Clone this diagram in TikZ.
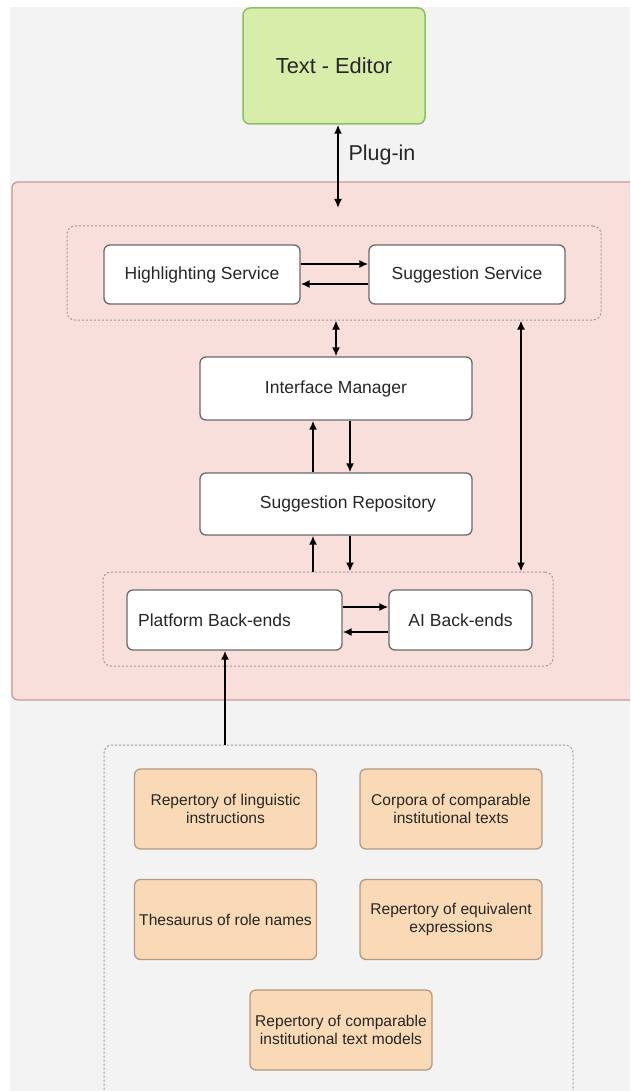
\documentclass[tikz,border=0pt]{standalone}
\usepackage{fontspec}
\setmainfont{Liberation Sans}
\usetikzlibrary{arrows.meta}
\definecolor{bggray}{HTML}{F3F3F3}
\definecolor{pinkfill}{HTML}{F8DFDB}
\definecolor{pinkline}{HTML}{C49C98}
\definecolor{greenfill}{HTML}{D9EDAA}
\definecolor{greenline}{HTML}{8DBF65}
\definecolor{orangefill}{HTML}{FAD9B6}
\definecolor{orangeline}{HTML}{B39A83}
\definecolor{boxline}{HTML}{6A6A6A}
\definecolor{dashgray}{HTML}{9A9A9A}
\definecolor{txt}{HTML}{262626}
\tikzset{
  svc/.style={draw=boxline, fill=white, line width=1.3pt, rounded corners=6pt,
    font=\fontsize{17.5}{20}\selectfont, text=txt, inner sep=0pt},
  src/.style={draw=orangeline, fill=orangefill, line width=1.3pt, rounded corners=6pt,
    font=\fontsize{15.6}{17.5}\selectfont, text=txt, align=center, inner sep=0pt,
    minimum width=182pt, minimum height=80pt},
  grp/.style={draw=dashgray, line width=1pt, dash pattern=on 2pt off 2pt, rounded corners=8pt,
    inner sep=0pt},
  arr/.style={-{Latex[length=9pt,width=8pt]}, line width=1.8pt, black},
  darr/.style={{Latex[length=9pt,width=8pt]}-{Latex[length=9pt,width=8pt]}, line width=1.8pt, black},
}
\begin{document}
\begin{tikzpicture}[x=1pt,y=-1pt]
\clip (0,0) rectangle (630,1091);
\fill[white] (0,0) rectangle (630,1091);
\fill[bggray] (10,7) rectangle (640,1100);
% main container
\node[draw=pinkline, fill=pinkfill, line width=1.3pt, rounded corners=6pt, minimum width=636pt, minimum height=518pt, inner sep=0pt] (main) at (330,441) {};
% text editor
\node[draw=greenline, fill=greenfill, line width=1.5pt, rounded corners=7pt, minimum width=182pt, minimum height=116pt, inner sep=0pt, font=\fontsize{21.8}{24}\selectfont, text=txt] (TE) at (334,66) {Text - Editor};
% groups
\node[grp, minimum width=534pt, minimum height=94pt] (G1) at (334,273) {};
\node[grp, minimum width=450pt, minimum height=94pt] (G2) at (328,619) {};
\node[grp, minimum width=469pt, minimum height=360pt] (G3) at (338.5,925) {};
% services
\node[svc, minimum width=196pt, minimum height=59pt] (HS) at (202,274.5) {Highlighting Service};
\node[svc, minimum width=196pt, minimum height=59pt] (SS) at (467,274.5) {Suggestion Service};
\node[svc, minimum width=272pt, minimum height=63pt] (IM) at (336,388.5) {Interface Manager};
\node[svc, minimum width=272pt, minimum height=62pt] (SR) at (336,504) {\hspace*{24pt}Suggestion Repository};
\node[svc, minimum width=215pt, minimum height=60pt] (PB) at (234.5,620) {Platform Back-ends\hspace*{40pt}};
\node[svc, minimum width=143pt, minimum height=60pt] (AI) at (460.5,620) {AI Back-ends};
% sources
\node[src] (O1) at (225.5,809) {Repertory of linguistic\\instructions};
\node[src] (O2) at (451,809) {Corpora of comparable\\institutional texts};
\node[src] (O3) at (225.5,919.5) {Thesaurus of role names};
\node[src] (O4) at (451,919.5) {Repertory of equivalent\\expressions};
\node[src] (O5) at (341,1030) {Repertory of comparable\\institutional text models};
% helper coordinates
\coordinate (pin) at (338,208);
\coordinate (xa) at (336,0);
\coordinate (xl) at (313,0);
\coordinate (xr) at (350,0);
\coordinate (xlong) at (521,0);
\coordinate (xpb) at (225,0);
% connectors
\draw[darr] (pin |- TE.south) -- (pin);
\node[anchor=west, font=\fontsize{21.5}{24}\selectfont, text=txt] (plug) at (345,155) {Plug-in};
\draw[arr] ([yshift=10.5pt]HS.east) -- ([yshift=10.5pt]HS.east -| SS.west);
\draw[arr] ([yshift=-9.5pt]SS.west) -- ([yshift=-9.5pt]SS.west -| HS.east);
\draw[darr] (xa |- G1.south) -- (xa |- IM.north);
\draw[arr] (xl |- SR.north) -- (xl |- IM.south);
\draw[arr] (xr |- IM.south) -- (xr |- SR.north);
\draw[arr] (xl |- G2.north) -- (xl |- SR.south);
\draw[arr] (xr |- SR.south) -- (xr |- G2.north);
\draw[darr] (xlong |- G1.south) -- (xlong |- G2.north);
\draw[arr] ([yshift=13pt]PB.east) -- ([yshift=13pt]PB.east -| AI.west);
\draw[arr] ([yshift=-12pt]AI.west) -- ([yshift=-12pt]AI.west -| PB.east);
\draw[arr] (xpb |- G3.north) -- (xpb |- PB.south);
\end{tikzpicture}
\end{document}
